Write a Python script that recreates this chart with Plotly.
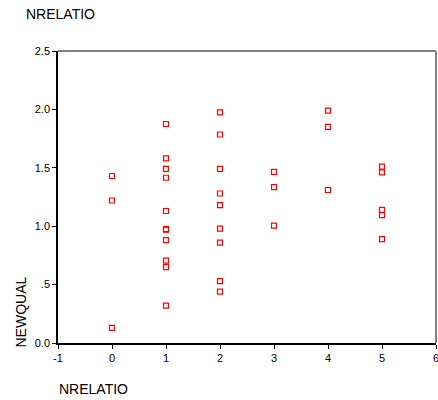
import plotly.graph_objects as go

nrelatio = [0, 0, 0,
            1, 1, 1, 1, 1, 1, 1, 1, 1, 1, 1,
            2, 2, 2, 2, 2, 2, 2, 2, 2,
            3, 3, 3,
            4, 4, 4,
            5, 5, 5, 5, 5]
newqual = [1.43, 1.22, 0.13,
           1.875, 1.58, 1.49, 1.415, 1.13, 0.975, 0.97, 0.88, 0.705, 0.65, 0.32,
           1.975, 1.785, 1.49, 1.28, 1.18, 0.98, 0.86, 0.53, 0.44,
           1.465, 1.335, 1.005,
           1.99, 1.85, 1.31,
           1.51, 1.46, 1.14, 1.095, 0.89]
x_ticks = [-1, 0, 1, 2, 3, 4, 5, 6]
y_ticks = [0.0, 0.5, 1.0, 1.5, 2.0, 2.5]
y_tick_labels = ["0.0", ".5", "1.0", "1.5", "2.0", "2.5"]

font = "Liberation Sans, Arial, sans-serif"

fig = go.Figure(go.Scatter(
    x=nrelatio, y=newqual, mode="markers",
    marker=dict(symbol="square-open", size=5, color="#ff0000", line=dict(width=1.2, color="#ff0000")),
    hoverinfo="skip",
))

fig.update_layout(
    width=438, height=400,
    margin=dict(l=58, r=2, t=51, b=57, autoexpand=False),
    paper_bgcolor="white", plot_bgcolor="white",
    showlegend=False,
    font=dict(family=font, color="#000000", size=11),
    xaxis=dict(range=[-1, 6], tickvals=x_ticks, ticktext=[str(v) for v in x_ticks],
               showgrid=False, zeroline=False, showline=True, linecolor="#000000", linewidth=1.5,
               ticks="outside", ticklen=4, tickcolor="#000000", ticklabeloverflow="allow",
               automargin=False, tickfont=dict(size=11, family=font)),
    yaxis=dict(range=[0, 2.5], tickvals=y_ticks, ticktext=y_tick_labels,
               showgrid=False, zeroline=False, showline=True, linecolor="#000000", linewidth=1.5,
               ticks="outside", ticklen=4, tickcolor="#000000", ticklabeloverflow="allow",
               automargin=False, tickfont=dict(size=11, family=font)),
    shapes=[
        dict(type="line", xref="paper", yref="paper", x0=0, x1=1, y0=1, y1=1,
             line=dict(color="#808080", width=2)),
        dict(type="line", xref="paper", yref="paper", x0=1, x1=1, y0=0, y1=1,
             line=dict(color="#808080", width=2)),
    ],
    annotations=[
        dict(text="NRELATIO", xref="paper", yref="paper", x=-34/378, y=1 + 37/292,
             xanchor="left", yanchor="middle", showarrow=False, font=dict(size=14, family=font)),
        dict(text="NRELATIO", xref="paper", yref="paper", x=-1/378, y=-46/292,
             xanchor="left", yanchor="middle", showarrow=False, font=dict(size=14, family=font)),
        dict(text="NEWQUAL", xref="paper", yref="paper", x=-38/378, y=-7/292,
             xanchor="center", yanchor="bottom", textangle=-90, showarrow=False,
             font=dict(size=14, family=font)),
    ],
)

fig.write_html("out.html")
